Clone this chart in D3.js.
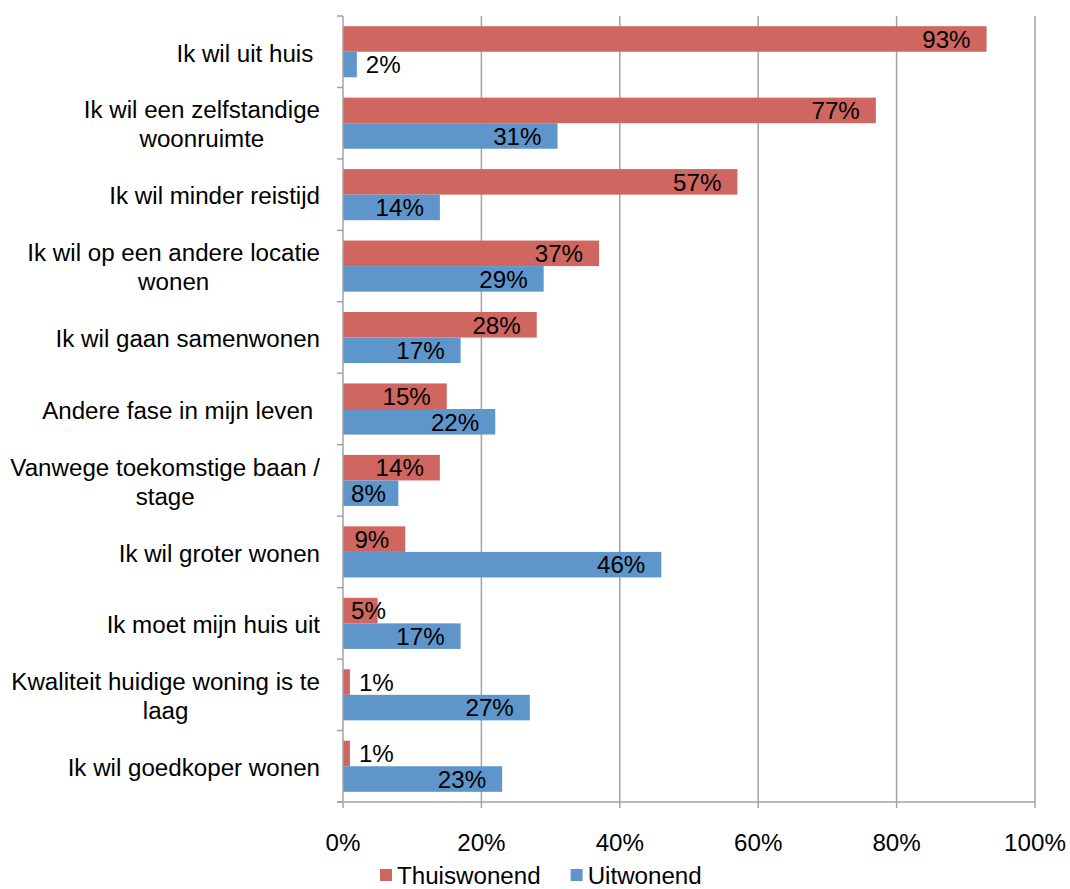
<!DOCTYPE html>
<html>
<head>
<meta charset="utf-8">
<script src="https://cdn.jsdelivr.net/npm/d3@7"></script>
<style>
  html, body { margin: 0; padding: 0; background: #fff; }
  svg { display: block; }
  text { font-family: "Liberation Sans", Arial, sans-serif; fill: #000; }
</style>
</head>
<body>
<svg id="chart" width="1070" height="889"></svg>
<script>
// Reasons for wanting to move, by current living situation
const categories = [
  ["Ik wil uit huis "],
  ["Ik wil een zelfstandige", "woonruimte"],
  ["Ik wil minder reistijd"],
  ["Ik wil op een andere locatie", "wonen"],
  ["Ik wil gaan samenwonen"],
  ["Andere fase in mijn leven "],
  ["Vanwege toekomstige baan /", "stage"],
  ["Ik wil groter wonen"],
  ["Ik moet mijn huis uit"],
  ["Kwaliteit huidige woning is te", "laag"],
  ["Ik wil goedkoper wonen"]
];
const seriesNames = ["Thuiswonend", "Uitwonend"];
const thuiswonend = [93, 77, 57, 37, 28, 15, 14, 9, 5, 1, 1];
const uitwonend   = [2, 31, 14, 29, 17, 22, 8, 46, 17, 27, 23];
const xTicks = [0, 20, 40, 60, 80, 100];
const colors = ["#CF665F", "#5E95CA"];

const svg = d3.select("#chart");
const margin = { left: 343, right: 35, top: 16, bottom: 87 };
const W = 1070, H = 889;
const x0 = margin.left, x1 = W - margin.right;
const y0 = margin.top, y1 = H - margin.bottom;
const FS = 23, SX = 1.05; // font size and slightly wide glyph stretch

const x = d3.scaleLinear().domain([0, 100]).range([x0, x1]);
const idx = d3.range(categories.length);
const y = d3.scaleBand().domain(idx).range([y0, y1]).paddingInner(0.285).paddingOuter(0.1425);
const ySub = d3.scaleBand().domain([0, 1]).range([0, y.bandwidth()]);
const step = y.step();
const gridColor = "#A3A3A3";

// text helper: places a stretched label at (px, py)
function label(parent, str, px, py, anchor) {
  const t = parent.append("text")
    .attr("xml:space", "preserve")
    .style("white-space", "pre")
    .attr("font-size", FS)
    .attr("dominant-baseline", "central")
    .attr("text-anchor", anchor)
    .text(str);
  t.place = (nx, ny, na) => t.attr("text-anchor", na)
    .attr("transform", `translate(${nx},${ny}) scale(${SX},1)`);
  t.width = () => t.node().getComputedTextLength() * SX;
  t.place(px, py, anchor);
  return t;
}

// vertical gridlines
svg.append("g").selectAll("line")
  .data(xTicks.filter(t => t > 0))
  .join("line")
  .attr("x1", d => x(d)).attr("x2", d => x(d))
  .attr("y1", y0).attr("y2", y1)
  .attr("stroke", gridColor).attr("stroke-width", 1.5);

// bars
const rows = idx.map(i => [thuiswonend[i], uitwonend[i]]);
const groups = svg.append("g").selectAll("g")
  .data(rows)
  .join("g")
  .attr("transform", (d, i) => `translate(0,${y(i)})`);

groups.selectAll("rect")
  .data(d => d.map((v, s) => ({ v, s })))
  .join("rect")
  .attr("x", x(0))
  .attr("y", d => ySub(d.s))
  .attr("width", d => x(d.v) - x(0))
  .attr("height", ySub.bandwidth())
  .attr("fill", d => colors[d.s]);

// value labels: inside the bar end, or just past it for very short bars
const fmt = v => v + "%";
groups.each(function (row) {
  const g = d3.select(this);
  row.forEach((v, s) => {
    const cy = ySub(s) + ySub.bandwidth() / 2 + 1;
    const end = x(v);
    const t = label(g, fmt(v), end, cy, "end");
    const w = t.width();
    if (end - x(0) < 25) t.place(end + 9, cy, "start");
    else t.place(Math.max(end - 16, x(0) + 8 + w), cy, "end");
  });
});

// left axis line with category ticks
const axis = svg.append("g").attr("stroke", gridColor).attr("stroke-width", 1.5);
axis.append("line").attr("x1", x0).attr("x2", x0).attr("y1", y0).attr("y2", y1);
axis.selectAll(".ct").data(d3.range(categories.length + 1)).join("line")
  .attr("class", "ct")
  .attr("x1", x0 - 6).attr("x2", x0)
  .attr("y1", d => y0 + d * step).attr("y2", d => y0 + d * step);

// bottom axis line with ticks
axis.append("line").attr("x1", x0 - 6).attr("x2", x1).attr("y1", y1).attr("y2", y1);
axis.selectAll(".xt").data(xTicks).join("line")
  .attr("class", "xt")
  .attr("x1", d => x(d)).attr("x2", d => x(d))
  .attr("y1", y1).attr("y2", y1 + 6);

// x tick labels
const xl = svg.append("g");
xTicks.forEach(d => label(xl, d + "%", x(d), y1 + 41, "middle"));

// category labels: lines centred on each other, block right-aligned
const labelRight = 320, lineH = 29;
idx.forEach(i => {
  const lines = categories[i];
  const g = svg.append("g");
  const cy = y0 + (i + 0.5) * step + 2;
  const texts = lines.map((ln, k) =>
    label(g, ln, labelRight, cy + (k - (lines.length - 1) / 2) * lineH, "end"));
  const maxW = d3.max(texts, t => t.width());
  texts.forEach((t, k) =>
    t.place(labelRight - maxW / 2, cy + (k - (lines.length - 1) / 2) * lineH, "middle"));
});

// legend
const legend = svg.append("g").attr("transform", `translate(380, 876)`);
let lx = 0;
seriesNames.forEach((name, s) => {
  legend.append("rect").attr("x", lx).attr("y", -7).attr("width", 12).attr("height", 12).attr("fill", colors[s]);
  const t = label(legend, name, lx + 17, 0, "start");
  lx += 17 + t.width() + 30;
});
</script>
</body>
</html>
